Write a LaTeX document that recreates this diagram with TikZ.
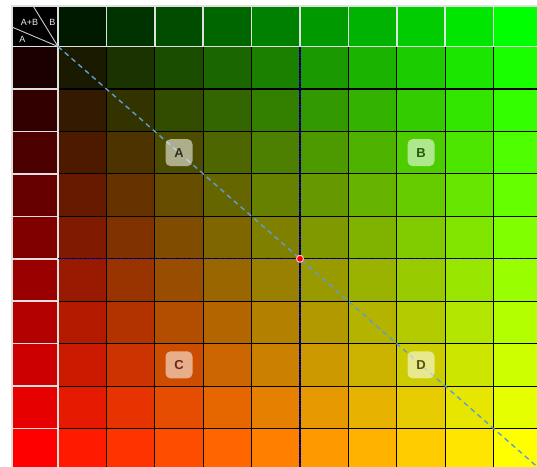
\documentclass[tikz,border=0pt]{standalone}
\usepackage{fontspec}
\setsansfont{Liberation Sans}
\usepackage{tikz}
\usetikzlibrary{calc}
\definecolor{diagblue}{RGB}{95,155,215}
\definecolor{tagAtext}{RGB}{50,50,30}
\definecolor{tagBtext}{RGB}{35,90,10}
\definecolor{tagCtext}{RGB}{105,45,15}
\definecolor{tagDtext}{RGB}{85,85,0}

\begin{document}
\begin{tikzpicture}[x=1pt,y=-1pt,
    cell/.style={rectangle,minimum width=48.4pt,minimum height=42.45pt,
                 inner sep=0pt,outer sep=0pt,draw=black,line width=1.1pt},
    axiscell/.style={rectangle,inner sep=0pt,outer sep=0pt,
                     draw=white!88!black,line width=1.6pt},
    tag/.style={rectangle,rounded corners=5pt,minimum size=27pt,inner sep=0pt,
                fill=white,fill opacity=0.55,text opacity=1,
                font=\sffamily\bfseries\fontsize{13}{13}\selectfont},
    keylabel/.style={text=white!92!black,inner sep=0pt,
                     font=\sffamily\fontsize{9}{9}\selectfont}]
  \useasboundingbox (0,0) rectangle (537,466);
  \clip (0,0) rectangle (537,466);

  % mixed cells: red down, green across
  \foreach \i in {1,...,10}{
    \foreach \j in {1,...,10}{
      \pgfmathtruncatemacro\r{min(255,round(\i*25.5))}
      \pgfmathtruncatemacro\g{min(255,round(\j*25.5))}
      \definecolor{cellcol}{RGB}{\r,\g,0}
      \node[cell,fill=cellcol] (c-\i-\j) at ({58+(\j-0.5)*48.4},{46.5+(\i-0.5)*42.45}) {};
    }
  }

  % green scale along the top
  \foreach \j in {1,...,10}{
    \pgfmathtruncatemacro\g{min(255,round(\j*25.5))}
    \definecolor{cellcol}{RGB}{0,\g,0}
    \node[axiscell,fill=cellcol,minimum width=48.4pt,minimum height=40.5pt]
      (top-\j) at ({58+(\j-0.5)*48.4},26.25) {};
  }

  % red scale down the left
  \foreach \i in {1,...,10}{
    \pgfmathtruncatemacro\r{min(255,round(\i*25.5))}
    \definecolor{cellcol}{RGB}{\r,0,0}
    \node[axiscell,fill=cellcol,minimum width=46pt,minimum height=42.45pt]
      (left-\i) at (35,{46.5+(\i-0.5)*42.45}) {};
  }

  % corner key
  \node[axiscell,fill=black,minimum width=46pt,minimum height=40.5pt] (key) at (35,26.25) {};
  \coordinate (keytop) at ($(key.north west)!0.46!(key.north east)$);
  \coordinate (keyleft) at ($(key.north west)!0.52!(key.south west)$);
  \draw[white!80!black,line width=0.9pt] (key.south east) -- (keytop);
  \draw[white!80!black,line width=0.9pt] (key.south east) -- (keyleft);
  \node[keylabel] (keyAB) at (29.5,22.5) {A+B};
  \node[keylabel] (keyB) at (52.5,22.5) {B};
  \node[keylabel] (keyA) at (22.5,39) {A};

  % half-way lines
  \draw[black,line width=1.1pt] (c-1-5.north east) -- (c-10-5.south east);
  \draw[blue!85!black,line width=1.1pt,dash pattern=on 1.3pt off 1.3pt]
    (c-1-5.north east) -- (c-10-5.south east);
  \draw[black,line width=1.1pt] (c-5-1.south west) -- (c-5-10.south east);
  \draw[blue!85!black,line width=1.1pt,dash pattern=on 1.3pt off 1.3pt]
    (c-5-1.south west) -- (c-5-10.south east);

  % diagonal
  \draw[diagblue,line width=1.4pt,dash pattern=on 5pt off 4pt]
    (c-1-1.north west) -- (c-10-10.south east);

  \node[circle,fill=red,draw=white!75!red,line width=1pt,minimum size=7pt,
        inner sep=0pt] (mid) at (c-5-5.south east) {};

  % quadrant tags
  \node[tag,text=tagAtext] (tagA) at (c-3-3) {A};
  \node[tag,text=tagBtext] (tagB) at (c-3-8) {B};
  \node[tag,text=tagCtext] (tagC) at (c-8-3) {C};
  \node[tag,text=tagDtext] (tagD) at (c-8-8) {D};
\end{tikzpicture}
\end{document}
